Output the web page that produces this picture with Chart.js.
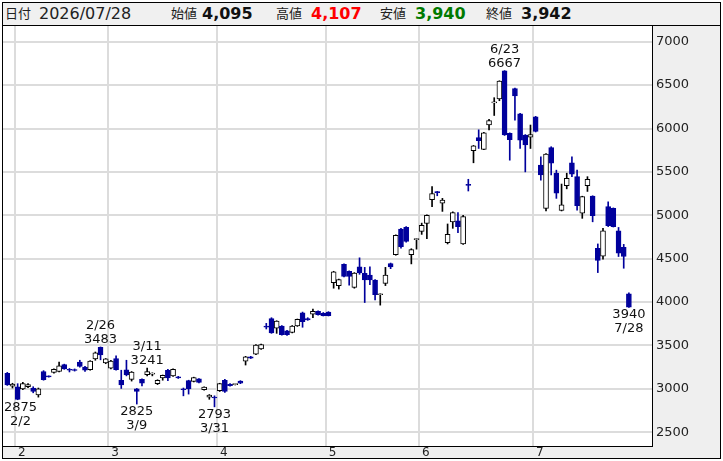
<!DOCTYPE html>
<html>
<head>
<meta charset="utf-8">
<script src="https://cdn.jsdelivr.net/npm/chart.js@4.4.1/dist/chart.umd.min.js"></script>
<style>
    body { margin: 0; background: #fff; }
    #wrap { position: relative; width: 723px; height: 461px; overflow: hidden; }
    #chart { position: absolute; left: 0; top: 0; }
    #frame { position: absolute; left: 2px; top: 2px; width: 717px; height: 455px; border: 1px solid #000; pointer-events: none; }
    #head {
        position: absolute; left: 3px; top: 3px; width: 717px; height: 22px;
        background: #f0f0f0; border-bottom: 1px solid #000;
        font-family: "DejaVu Sans", "Noto Sans CJK JP", sans-serif;
        line-height: 22px; color: #222;
    }
    #head span { position: absolute; top: 0; white-space: nowrap; }
    .k { font-size: 13px; }
    .d { font-size: 16px; }
    .v { font-size: 16px; font-weight: bold; color: #111; }
</style>
</head>
<body>
<div id="wrap">
    <canvas id="chart" width="723" height="461"></canvas>
    <div id="head">
        <span class="k" style="left:2px">日付</span>
        <span class="d" id="h-date" style="left:36px"></span>
        <span class="k" style="left:168px">始値</span>
        <span class="v" id="h-open" style="left:199px"></span>
        <span class="k" style="left:273px">高値</span>
        <span class="v" id="h-high" style="left:308px;color:#ff0000"></span>
        <span class="k" style="left:377px">安値</span>
        <span class="v" id="h-low" style="left:412px;color:#007a00"></span>
        <span class="k" style="left:483px">終値</span>
        <span class="v" id="h-close" style="left:518px"></span>
    </div>
    <div id="frame"></div>
</div>
<script>
const year = 2026;

const dates = [
    '1/29', '1/30',
    '2/2', '2/3', '2/4', '2/5', '2/6', '2/9', '2/10', '2/12', '2/13', '2/16', '2/17', '2/18', '2/19', '2/20', '2/24', '2/25', '2/26', '2/27',
    '3/2', '3/3', '3/4', '3/5', '3/6', '3/9', '3/10', '3/11', '3/12', '3/13', '3/16', '3/17', '3/18', '3/19', '3/23', '3/24', '3/25', '3/26', '3/27', '3/30', '3/31',
    '4/1', '4/2', '4/3', '4/6', '4/7', '4/8', '4/9', '4/10', '4/13', '4/14', '4/15', '4/16', '4/17', '4/20', '4/21', '4/22', '4/23', '4/24', '4/27', '4/28', '4/30',
    '5/1', '5/7', '5/8', '5/11', '5/12', '5/13', '5/14', '5/15', '5/18', '5/19', '5/20', '5/21', '5/22', '5/25', '5/26', '5/27', '5/28', '5/29',
    '6/1', '6/2', '6/3', '6/4', '6/5', '6/8', '6/9', '6/10', '6/11', '6/12', '6/15', '6/16', '6/17', '6/18', '6/19', '6/22', '6/23', '6/24', '6/25', '6/26', '6/29', '6/30',
    '7/1', '7/2', '7/3', '7/6', '7/7', '7/8', '7/9', '7/10', '7/13', '7/14', '7/15', '7/16', '7/17', '7/21', '7/22', '7/23', '7/24', '7/27', '7/28'
];

const opens = [
    3180, 3030,
    3025, 3000, 3025, 3010, 2930, 3200, 3145, 3190, 3200, 3280, 3225, 3220, 3310, 3250, 3220, 3345, 3480, 3300,
    3240, 3350, 3100, 3220, 3110, 3000, 3110, 3165, 3170, 3060, 3125, 3215, 3150, 3140, 3000, 3095, 3085, 3115, 2990, 2905, 2905,
    2980, 3100, 3053, 3050, 3090, 3320, 3370, 3400, 3460, 3725, 3810, 3700, 3725, 3670, 3650, 3725, 3875, 3810, 3860, 3895, 3870,
    3885, 4225, 4190, 4435, 4355, 4170, 4405, 4330, 4310, 4255, 4085, 4215, 4445, 4545, 4840, 4860, 4545, 4720,
    4815, 4905, 5180, 5272, 5140, 4685, 4925, 4935, 4670, 5350, 5745, 5895, 5760, 6040, 6295, 6340, 6665, 5945, 6460, 6170, 5925, 5900,
    6135, 5580, 5080, 5780, 5485, 5055, 5340, 5605, 5445, 5025, 5340, 5220, 4620, 4530, 5100, 5080, 4820, 4630, 4095
];

const highs = [
    3190, 3065,
    3060, 3075, 3060, 3025, 3010, 3210, 3150, 3230, 3310, 3285, 3235, 3230, 3330, 3260, 3325, 3425, 3483, 3350,
    3330, 3380, 3215, 3330, 3200, 3005, 3115, 3241, 3185, 3105, 3160, 3225, 3230, 3145, 3010, 3100, 3135, 3120, 3025, 2935, 2920,
    3065, 3110, 3060, 3055, 3095, 3375, 3375, 3510, 3515, 3755, 3820, 3785, 3730, 3675, 3730, 3805, 3885, 3820, 3920, 3900, 3880,
    3890, 4355, 4265, 4440, 4360, 4340, 4510, 4400, 4405, 4260, 4095, 4400, 4450, 4775, 4850, 4870, 4615, 4730,
    4910, 5005, 5330, 5275, 5195, 4900, 5040, 5030, 5000, 5415, 5805, 5985, 5955, 6105, 6355, 6550, 6667, 5950, 6465, 6175, 5930, 6040,
    6140, 5675, 5710, 5790, 5520, 5360, 5485, 5675, 5520, 5220, 5445, 5225, 4670, 4850, 5155, 5085, 4860, 4665, 4107
];

const lows = [
    3040, 3010,
    2875, 2990, 3015, 2955, 2905, 3100, 3135, 3180, 3195, 3225, 3195, 3205, 3250, 3200, 3215, 3330, 3335, 3290,
    3230, 3215, 3005, 3150, 3090, 2825, 3035, 3150, 3150, 3050, 3100, 3095, 3145, 3120, 2920, 2940, 3080, 3070, 2985, 2880, 2793,
    2970, 2960, 3030, 3045, 3060, 3275, 3350, 3395, 3455, 3690, 3640, 3640, 3620, 3615, 3645, 3720, 3710, 3790, 3820, 3850, 3840,
    3840, 4160, 4150, 4290, 4195, 4160, 4320, 3995, 4200, 4025, 3965, 4190, 4385, 4540, 4620, 4690, 4440, 4610,
    4780, 4730, 5100, 5225, 5045, 4670, 4850, 4800, 4665, 5280, 5605, 5770, 5755, 5985, 6150, 6320, 5920, 5635, 6095, 5770, 5500, 5770,
    5960, 5405, 5050, 5465, 5195, 5050, 5305, 5445, 5060, 4965, 5275, 4925, 4340, 4495, 4870, 4865, 4525, 4390, 3940
];

const closes = [
    3045, 3055,
    2880, 3060, 3050, 2970, 3000, 3105, 3138, 3225, 3265, 3230, 3215, 3212, 3260, 3215, 3320, 3415, 3390, 3345,
    3320, 3220, 3045, 3160, 3195, 2970, 3065, 3200, 3172, 3100, 3155, 3125, 3225, 3125, 2990, 3000, 3130, 3075, 3020, 2930, 2895,
    3060, 2970, 3037, 3052, 3065, 3370, 3355, 3505, 3510, 3710, 3645, 3780, 3625, 3625, 3725, 3800, 3775, 3795, 3895, 3855, 3845,
    3845, 4350, 4260, 4295, 4295, 4335, 4335, 4255, 4255, 4085, 4088, 4310, 4405, 4770, 4640, 4700, 4605, 4725,
    4885, 5000, 5250, 5262, 5175, 4780, 5030, 4870, 4985, 5345, 5800, 5860, 5950, 6090, 6305, 6545, 5925, 5870, 6375, 5865, 5810, 5930,
    5965, 5465, 5705, 5600, 5255, 5120, 5425, 5475, 5110, 5215, 5415, 4995, 4480, 4820, 4880, 4870, 4565, 4525, 3942
];

const yTicks = [2500, 3000, 3500, 4000, 4500, 5000, 5500, 6000, 6500, 7000];

// dates that get a high / low caption on the chart
const highMarks = ['2/26', '3/11', '6/23'];
const lowMarks = ['2/2', '3/9', '3/31', '7/28'];

const DOWN = '#00009c';
const FONT = '"DejaVu Sans", "Noto Sans CJK JP", sans-serif';

// header shows the last session
const last = dates.length - 1;
const fmt = v => v.toLocaleString('en-US');
const [lm, ld] = dates[last].split('/');
document.getElementById('h-date').textContent = `${year}/${lm.padStart(2, '0')}/${ld.padStart(2, '0')}`;
document.getElementById('h-open').textContent = fmt(opens[last]);
document.getElementById('h-high').textContent = fmt(highs[last]);
document.getElementById('h-low').textContent = fmt(lows[last]);
document.getElementById('h-close').textContent = fmt(closes[last]);

// month boundaries for the x axis
const monthTicks = [];
dates.forEach((d, i) => {
    if (i > 0 && d.split('/')[0] !== dates[i - 1].split('/')[0]) {
        monthTicks.push({ value: i - 0.5, label: d.split('/')[0] });
    }
});

const idx = dates.map((_, i) => i);
const isUp = i => closes[i] >= opens[i];

const panelPlugin = {
    id: 'panels',
    beforeDraw(chart) {
        const { ctx, chartArea, width, height } = chart;
        ctx.save();
        ctx.fillStyle = '#fff';
        ctx.fillRect(0, 0, width, height);
        ctx.fillStyle = '#efefef';
        ctx.fillRect(chartArea.right, chartArea.top, 720 - chartArea.right, chartArea.bottom - chartArea.top);
        ctx.fillRect(3, chartArea.bottom, 717, 458 - chartArea.bottom);
        ctx.restore();
    }
};

const markPlugin = {
    id: 'marks',
    afterDatasetsDraw(chart) {
        const { ctx, chartArea, scales: { x, y } } = chart;
        ctx.save();
        ctx.font = '13px ' + FONT;
        ctx.fillStyle = '#111';
        ctx.textAlign = 'center';
        ctx.textBaseline = 'alphabetic';

        const put = (lines, i, baseY) => {
            const w = Math.max(...lines.map(t => ctx.measureText(t).width));
            let cx = x.getPixelForValue(i);
            cx = Math.max(cx, chartArea.left + 1 + w / 2);
            cx = Math.min(cx, chartArea.right - 1 - w / 2);
            lines.forEach((t, k) => ctx.fillText(t, cx, baseY + k * 14));
        };

        highMarks.forEach(d => {
            const i = dates.indexOf(d);
            put([d, String(highs[i])], i, y.getPixelForValue(highs[i]) - 4 - 14);
        });
        lowMarks.forEach(d => {
            const i = dates.indexOf(d);
            put([String(lows[i]), d], i, y.getPixelForValue(lows[i]) + 11);
        });
        ctx.restore();
    }
};

new Chart(document.getElementById('chart'), {
    type: 'bar',
    data: {
        datasets: [
            {
                label: 'body',
                data: idx.map(i => ({ x: i, y: [opens[i], closes[i]] })),
                backgroundColor: idx.map(i => isUp(i) ? '#ffffff' : DOWN),
                borderColor: idx.map(i => isUp(i) ? '#000000' : DOWN),
                borderWidth: 1,
                borderSkipped: false,
                barThickness: 5,
                minBarLength: 1,
                grouped: false
            },
            {
                label: 'wick',
                data: idx.map(i => ({ x: i, y: [lows[i], highs[i]] })),
                backgroundColor: idx.map(i => isUp(i) ? '#000000' : DOWN),
                barThickness: 1,
                grouped: false
            }
        ]
    },
    options: {
        responsive: false,
        animation: false,
        layout: { padding: { top: 26, left: 3, right: 3, bottom: 3 } },
        plugins: {
            legend: { display: false },
            tooltip: { enabled: false }
        },
        scales: {
            x: {
                type: 'linear',
                min: -0.83,
                max: 124.46,
                offset: false,
                afterBuildTicks: s => { s.ticks = monthTicks.map(t => ({ value: t.value })); },
                afterFit: s => { s.height = 12; s.paddingLeft = 0; s.paddingRight = 0; },
                ticks: {
                    autoSkip: false,
                    maxRotation: 0,
                    align: 'start',
                    labelOffset: 3,
                    padding: 0,
                    color: '#222',
                    font: { family: FONT, size: 12 },
                    callback: (v, i) => monthTicks[i].label
                },
                grid: { color: '#dcdcdc', lineWidth: 2, drawTicks: false, offset: false },
                border: { color: '#000', width: 1 }
            },
            y: {
                position: 'right',
                min: 2342,
                max: 7181,
                afterBuildTicks: s => { s.ticks = yTicks.map(v => ({ value: v })); },
                afterFit: s => { s.width = 68; s.paddingTop = 0; s.paddingBottom = 0; },
                ticks: {
                    crossAlign: 'near',
                    padding: 4,
                    color: '#222',
                    font: { family: FONT, size: 13 },
                    callback: v => String(v)
                },
                grid: { color: '#dcdcdc', lineWidth: 2, drawTicks: false },
                border: { color: '#000', width: 1 }
            }
        }
    },
    plugins: [panelPlugin, markPlugin]
});
</script>
</body>
</html>
